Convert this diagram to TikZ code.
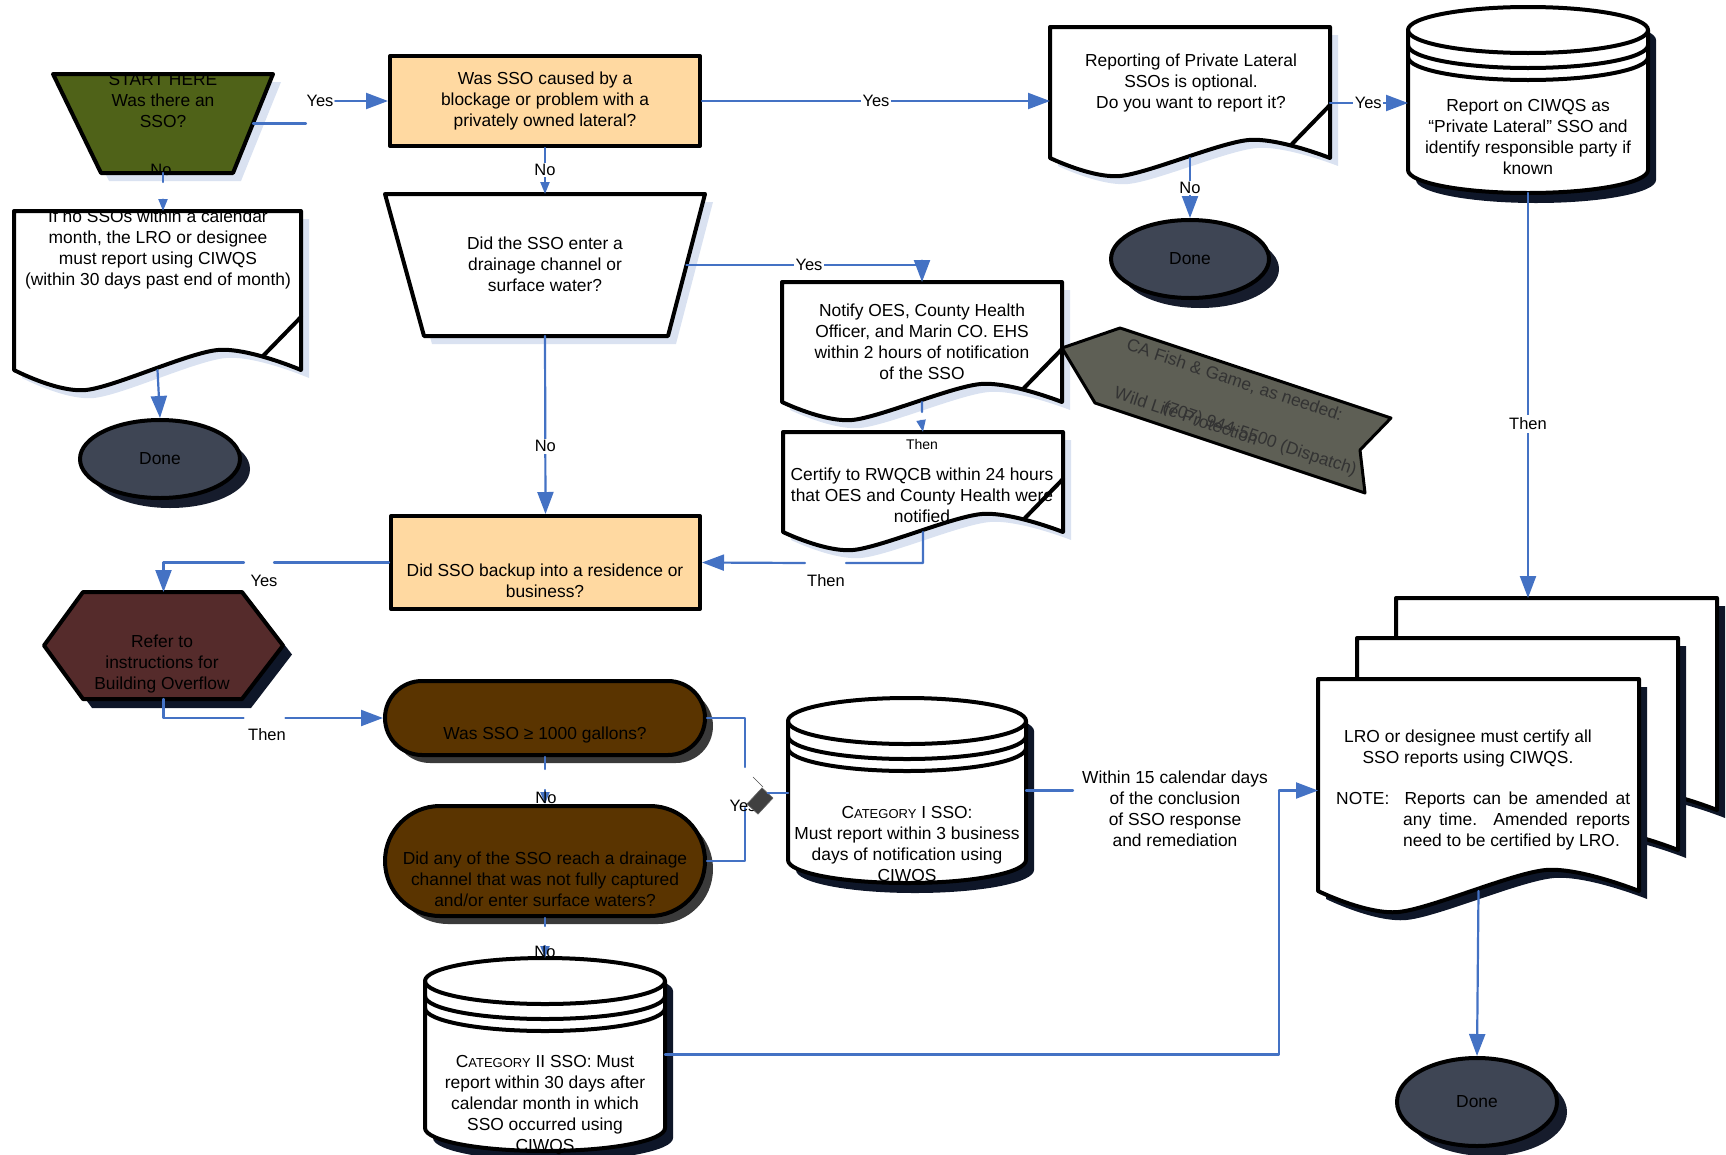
\documentclass[tikz,border=0pt]{standalone}
\usepackage{fontspec}
\setmainfont{Liberation Sans}
\usetikzlibrary{arrows.meta,calc,shapes.geometric,shadows}

\definecolor{flowblue}{RGB}{68,114,196}
\definecolor{startgreen}{RGB}{79,98,24}
\definecolor{askorange}{RGB}{255,217,161}
\definecolor{doneslate}{RGB}{62,69,84}
\definecolor{doneshadow}{RGB}{22,28,44}
\definecolor{refermaroon}{RGB}{85,43,43}
\definecolor{gallonbrown}{RGB}{90,52,0}
\definecolor{gallonshadow}{RGB}{58,58,58}
\definecolor{pennantgray}{RGB}{94,95,85}
\definecolor{paleshadow}{RGB}{218,226,241}
\definecolor{navyshadow}{RGB}{14,22,40}

\tikzset{
  rim/.style={draw=black,line width=4pt},
  shapeframe/.style={shape=rectangle,draw=none,inner sep=0pt,outer sep=0pt},
  txt/.style={align=center,inner sep=0pt},
  link/.style={draw=flowblue,line width=2.2pt},
  flow/.style={link,-{Triangle[length=22pt,width=16pt]}},
  flowsmall/.style={link,-{Triangle[length=12pt,width=9pt]}},
  lbl/.style={inner sep=1.5pt,font=\fontsize{16.5}{19}\selectfont},
  gaplbl/.style={lbl,fill=white},
  askbox/.style={rim,fill=askorange,align=center,inner sep=0pt},
  donebox/.style={ellipse,rim,fill=doneslate,text=black,inner sep=0pt,
    drop shadow={shadow xshift=10pt,shadow yshift=-10pt,fill=doneshadow,opacity=1}},
  gallonbox/.style={rim,fill=gallonbrown,
    drop shadow={shadow xshift=8pt,shadow yshift=-8pt,fill=gallonshadow,opacity=1}},
}

% page with a wavy foot, drawn round a frame node
\newcommand\docpage[3][18]{%
  \coordinate (#2-pk) at ($(#2.south west)!0.71!(#2.south east)+(0,-#1)$);
  \coordinate (#2-mn) at ($(#2.south west)!0.25!(#2.south east)+(0,#1)$);
  \begin{scope}[transform canvas={shift={(8,8)}}]
    \fill[#3] (#2.south west) -- (#2.north west) -- (#2.north east) -- (#2.south east)
      -- plot[smooth] coordinates {(#2.south east) (#2-pk) (#2-mn) (#2.south west)} -- cycle;
  \end{scope}
  \draw[rim,fill=white] (#2.south west) -- (#2.north west) -- (#2.north east) -- (#2.south east)
    -- plot[smooth] coordinates {(#2.south east) (#2-pk) (#2-mn) (#2.south west)} -- cycle;
}
\newcommand\docfold[1]{%
  \draw[rim] ($(#1.south east)+(0,-53)$) -- ($(#1.south east)+(-38,-14)$);
}
% stored data drum, drawn round a frame node
\newcommand\drum[2]{%
  \begin{scope}[transform canvas={shift={(8,10)}}]
    \fill[navyshadow] ($(#1.north west)+(0,23)$) -- ($(#1.south west)+(0,-23)$)
      arc[start angle=180,end angle=360,x radius=#2,y radius=23pt]
      -- ($(#1.north east)+(0,23)$)
      arc[start angle=0,end angle=180,x radius=#2,y radius=23pt] -- cycle;
  \end{scope}
  \draw[rim,fill=white] ($(#1.north west)+(0,23)$) -- ($(#1.south west)+(0,-23)$)
    arc[start angle=180,end angle=360,x radius=#2,y radius=23pt]
    -- ($(#1.north east)+(0,23)$)
    arc[start angle=0,end angle=180,x radius=#2,y radius=23pt] -- cycle;
  \draw[rim] ($(#1.north west)+(0,23)$) arc[start angle=180,end angle=360,x radius=#2,y radius=23pt];
  \draw[rim] ($(#1.north west)+(0,38)$) arc[start angle=180,end angle=360,x radius=#2,y radius=23pt];
  \draw[rim] ($(#1.north west)+(0,50)$) arc[start angle=180,end angle=360,x radius=#2,y radius=23pt];
}
\newcommand\catword{C{\fontsize{13}{21}\selectfont ATEGORY}}

\begin{document}
\begin{tikzpicture}[x=1pt,y=-1pt,line join=round,line cap=round,font=\fontsize{17.4}{21}\selectfont]
  \useasboundingbox (0,0) rectangle (1726,1154);

  % ---- start and the first questions ------------------------------------
  \node[shapeframe,minimum width=220pt,minimum height=99pt] (start) at (163,123.5) {};
  \begin{scope}[transform canvas={shift={(8,8)}}]
    \fill[paleshadow] (start.north west) -- (start.north east)
      -- ($(start.south east)+(-40,0)$) -- ($(start.south west)+(48,0)$) -- cycle;
  \end{scope}
  \draw[rim,fill=startgreen] (start.north west) -- (start.north east)
    -- ($(start.south east)+(-40,0)$) -- ($(start.south west)+(48,0)$) -- cycle;
  \node[txt] (start-text) at (163,101) {START HERE\\Was there an\\SSO?};

  \node[askbox,minimum width=310pt,minimum height=90pt] (q1) at (545,101)
    {Was SSO caused by a\\blockage or problem with a\\privately owned lateral?};

  \node[shapeframe,minimum width=320pt,minimum height=142pt] (q2) at (545,265) {};
  \begin{scope}[transform canvas={shift={(8,8)}}]
    \fill[paleshadow] (q2.north west) -- (q2.north east)
      -- ($(q2.south east)+(-37,0)$) -- ($(q2.south west)+(39,0)$) -- cycle;
  \end{scope}
  \draw[rim,fill=white] (q2.north west) -- (q2.north east)
    -- ($(q2.south east)+(-37,0)$) -- ($(q2.south west)+(39,0)$) -- cycle;
  \node[txt] (q2-text) at (545,264) {Did the SSO enter a\\drainage channel or\\surface water?};

  % ---- no SSO branch -----------------------------------------------------
  \node[shapeframe,minimum width=287pt,minimum height=159pt] (doc1) at (157.5,290.5) {};
  \docpage[20]{doc1}{paleshadow}
  \docfold{doc1}
  \node[txt] (doc1-text) at (158,249)
    {If no SSOs within a calendar\\month, the LRO or designee\\must report using CIWQS\\(within 30 days past end of month)};
  \node[donebox,minimum width=160pt,minimum height=78pt] (done1) at (160,459) {Done};

  % ---- private lateral branch -------------------------------------------
  \node[shapeframe,minimum width=280pt,minimum height=131pt] (doc2) at (1190,92.5) {};
  \docpage{doc2}{paleshadow}
  \docfold{doc2}
  \node[txt] (doc2-text) at (1191,83)
    {Reporting of Private Lateral\\SSOs is optional.\\Do you want to report it?};
  \node[donebox,minimum width=158pt,minimum height=78pt] (done2) at (1190,259) {Done};

  \node[shapeframe,minimum width=240pt,minimum height=186pt] (cyl1) at (1528,100) {};
  \drum{cyl1}{120pt}
  \node[txt] (cyl1-text) at (1528,137)
    {Report on CIWQS as\\“Private Lateral” SSO and\\identify responsible party if\\known};

  % ---- notification documents --------------------------------------------
  \node[shapeframe,minimum width=280pt,minimum height=120pt] (doc3) at (922,342) {};
  \docpage{doc3}{paleshadow}
  \docfold{doc3}
  \node[txt] (doc3-text) at (922,341.5)
    {Notify OES, County Health\\Officer, and Marin CO. EHS\\within 2 hours of notification\\of the SSO};

  \draw[rim,line width=3pt,fill=pennantgray] (1062,348) -- (1120,328) -- (1391,418)
    -- (1360,450) -- (1365,493) -- (1095,403) -- cycle;
  \node[anchor=west,rotate=-18.4,inner sep=0pt,text=black!80] (fishgame) at (1127,345) {CA Fish \& Game, as needed:};
  \node[anchor=west,rotate=-18.4,inner sep=0pt,text=black!80] (wildlife) at (1115,392) {Wild Life Protection};
  \node[anchor=west,rotate=-18.4,inner sep=0pt,text=black!80] (dispatch) at (1163,407) {(707) 944-5500 (Dispatch)};

  \node[shapeframe,minimum width=280pt,minimum height=100pt] (doc4) at (923,482) {};
  \docpage{doc4}{paleshadow}
  \docfold{doc4}
  \node[txt] (doc4-text) at (922,495)
    {Certify to RWQCB within 24 hours\\that OES and County Health were\\notified};

  % ---- backup and volume questions --------------------------------------
  \node[askbox,minimum width=309pt,minimum height=93pt] (q3) at (545.5,562.5) {};
  \node[txt] (q3-text) at (545,580.5) {Did SSO backup into a residence or\\business?};

  \node[shapeframe,minimum width=239pt,minimum height=107pt] (refer) at (163.5,645.5) {};
  \begin{scope}[transform canvas={shift={(9,9)}}]
    \fill[navyshadow] (refer.west) -- ($(refer.north west)+(39,0)$) -- ($(refer.north east)+(-41,0)$)
      -- (refer.east) -- ($(refer.south east)+(-41,0)$) -- ($(refer.south west)+(39,0)$) -- cycle;
  \end{scope}
  \draw[rim,fill=refermaroon] (refer.west) -- ($(refer.north west)+(39,0)$) -- ($(refer.north east)+(-41,0)$)
    -- (refer.east) -- ($(refer.south east)+(-41,0)$) -- ($(refer.south west)+(39,0)$) -- cycle;
  \node[txt] (refer-text) at (162,664) {Refer to\\instructions for\\Building Overflow};

  \node[gallonbox,minimum width=320pt,minimum height=74pt,rounded corners=37pt] (q4) at (545,718) {};
  \node[txt] (q4-text) at (545,735) {Was SSO ≥ 1000 gallons?};
  \node[gallonbox,minimum width=320pt,minimum height=110pt,rounded corners=55pt] (q5) at (545,861) {};
  \node[txt] (q5-text) at (545,879)
    {Did any of the SSO reach a drainage\\channel that was not fully captured\\and/or enter surface waters?};

  % ---- categories and certification ---------------------------------------
  \node[shapeframe,minimum width=238pt,minimum height=185pt] (cat1) at (907,790.5) {};
  \drum{cat1}{119pt}
  \node[txt] (cat1-text) at (907,845.5)
    {\catword\ I SSO:\\Must report within 3 business\\days of notification using\\CIWQS};

  \node[shapeframe,minimum width=240pt,minimum height=193pt] (cat2) at (545,1054.5) {};
  \drum{cat2}{120pt}
  \node[txt] (cat2-text) at (545,1105)
    {\catword\ II SSO: Must\\report within 30 days after\\calendar month in which\\SSO occurred using\\CIWQS};

  \node[shapeframe,minimum width=321pt,minimum height=212pt] (lro-back) at (1556.5,704) {};
  \node[shapeframe,minimum width=321pt,minimum height=212pt] (lro-mid) at (1517.5,744) {};
  \node[shapeframe,minimum width=321pt,minimum height=212pt] (lro) at (1478.5,785) {};
  \docpage[21]{lro-back}{navyshadow}
  \docpage[21]{lro-mid}{navyshadow}
  \docpage[21]{lro}{navyshadow}
  \node[txt] (lro-text) at (1468,748) {LRO or designee must certify all\\SSO reports using CIWQS.};
  \node[anchor=west,align=left,inner sep=0pt] (lro-note) at (1336,821)
    {\makebox[294pt][s]{NOTE:\ \ Reports can be amended at}\\
     \hspace*{67pt}\makebox[227pt][s]{any time.\ \ Amended reports}\\
     \hspace*{67pt}need to be certified by LRO.};
  \node[donebox,minimum width=160pt,minimum height=88pt] (done3) at (1477,1102) {Done};

  % ---- connectors ----------------------------------------------------------
  \draw[link] ($(start.east)+(-20,0)$) -- ++(53,0);
  \node[lbl] (yes1) at (320,101) {Yes};
  \draw[flow] (yes1.east) -- (q1.west);
  \node[lbl] (no1) at (161,170) {No};
  \draw[flowsmall] (start.south) -- ++(0,9) ++(0,19) -- (start.south |- doc1.north);
  \draw[flow] (doc1.south) -- (done1.north);

  \draw[flowsmall] (q1.south) -- node[gaplbl,pos=0.48] (no2) {No} (q2.north);
  \draw[flow] (q1.east) -- node[gaplbl,pos=0.5] (yes2) {Yes} (q1.east -| doc2.west);
  \draw[flow] (doc2.south) -- node[gaplbl,pos=0.5] (no3) {No} (done2.north);
  \coordinate (doc2-r) at ($(doc2.south east)+(0,-55)$);
  \draw[flow] (doc2-r) -- node[gaplbl,pos=0.49] (yes3) {Yes} (doc2-r -| cyl1.west);
  \draw[flow] (cyl1.south) -- node[gaplbl,inner sep=3pt,pos=0.57] (then1) {Then} (cyl1.south |- lro-back.north);

  \draw[flow] ($(q2.east)+(-18.5,0)$) -| node[gaplbl,pos=0.26] (yes5) {Yes} (doc3.north);
  \draw[flowsmall] (doc3.south) -- ++(0,10) ++(0,14) -- (doc4.north);
  \node[lbl,font=\fontsize{14}{16}\selectfont] (then2) at (922,444) {Then};
  \draw[flow] (doc4.south) |- ++(-77,31) ++(-41,0) -- (q3.east);
  \node[lbl] (then3) at (826,581) {Then};

  \draw[flow] (q2.south) -- node[gaplbl,pos=0.62] (no4) {No} (q3.north);
  \draw[flow] (q3.west) -- ++(-115,0) ++(-30,0) -| (refer.north);
  \node[lbl] (yes6) at (264,581) {Yes};
  \draw[flow] (refer.south) |- ++(80,19) ++(42,0) -- (q4.west);
  \node[lbl] (then4) at (267,735) {Then};

  \draw[flowsmall] (q4.south) -- ++(0,12) ++(0,21) -- (q5.north);
  \node[lbl] (no5) at (546,798) {No};
  \draw[flowsmall] (q5.south) -- ++(0,8) ++(0,20) -- (cat2.north);
  \node[lbl] (no6) at (545,952) {No};

  \draw[link] (q4.east) -- ++(38,0) -- ++(0,49);
  \draw[link] (q5.east) -- ++(38,0) -- ++(0,-53);
  \node[lbl] (yes7) at (743,806) {Yes};
  \node[fill=black!75,draw=black!60,line width=0.6pt,minimum width=22pt,minimum height=15pt,
    inner sep=0pt,rotate=47] (yes4) at (760,801) {};
  \draw[black!70,line width=0.6pt] ($(yes4)+(-7,-24)$) -- ($(yes4)+(3,-14)$);
  \draw[link] (yes4.east) -- (yes4.east -| cat1.west);

  \draw[link] (cat1.east) -- ++(47,0);
  \node[txt] (within) at (1175,809)
    {Within 15 calendar days\\of the conclusion\\of SSO response\\and remediation};
  \coordinate (merge) at (1279,790.5);
  \draw[flow] (merge) -- (merge -| lro.west);
  \draw[link] (cat2.east) -| (merge);
  \draw[flow] (lro.south) -- (done3.north);

\end{tikzpicture}
\end{document}
